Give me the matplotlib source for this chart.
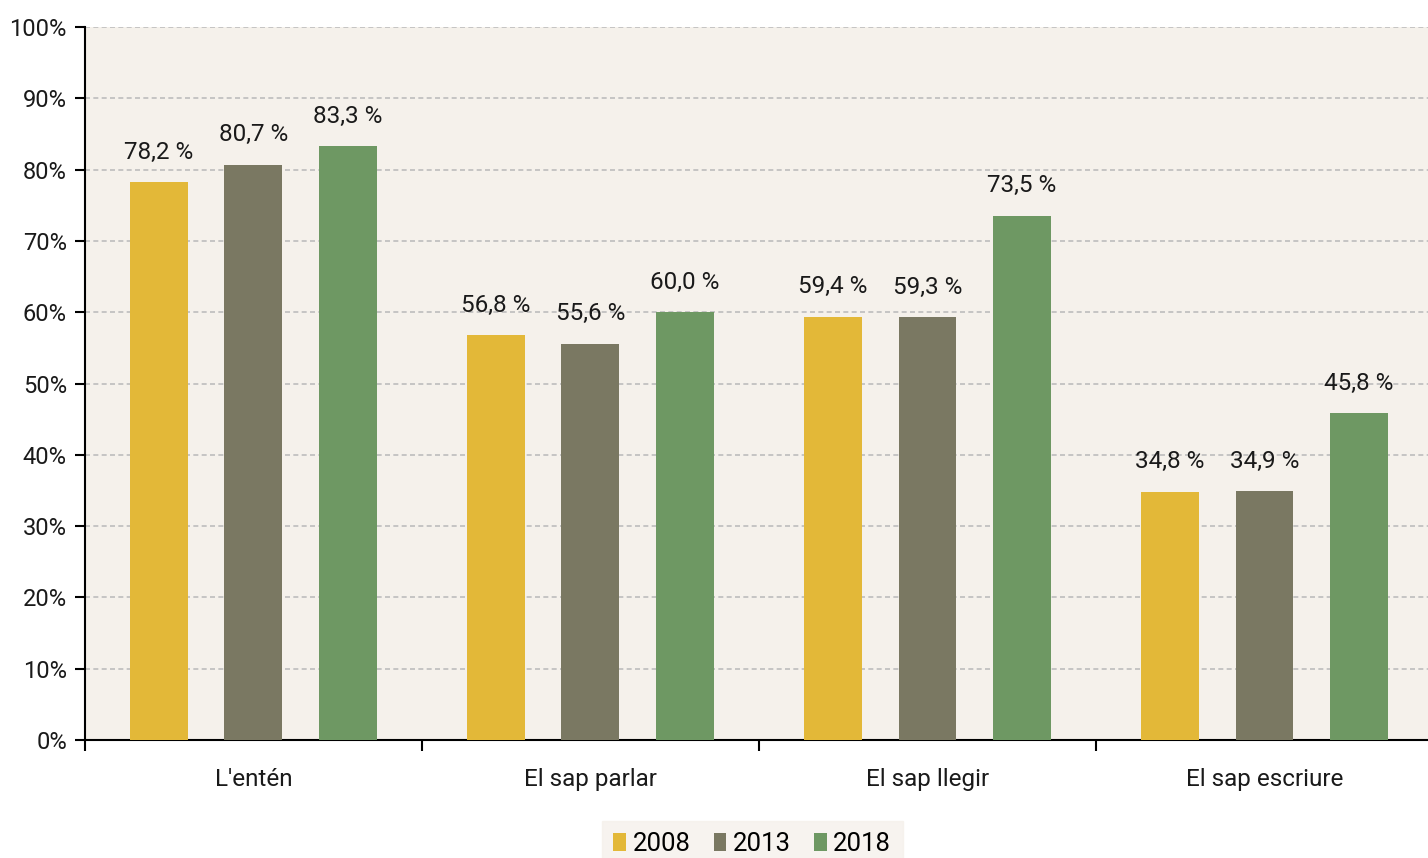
import matplotlib.pyplot as plt
import numpy as np
from matplotlib.ticker import FuncFormatter

plt.rcParams['font.family'] = ['Roboto', 'DejaVu Sans']

categories = ["L'entén", "El sap parlar", "El sap llegir", "El sap escriure"]
years = ["2008", "2013", "2018"]
v2008 = [78.2, 56.8, 59.4, 34.8]
v2013 = [80.7, 55.6, 59.3, 34.9]
v2018 = [83.3, 60.0, 73.5, 45.8]
colors = ["#E3B838", "#7A7862", "#6E9863"]

fig = plt.figure(figsize=(14.28, 8.58), dpi=100)
ax = fig.add_axes([0.0595, 0.1375, 0.944, 0.831])
ax.set_facecolor("#F5F1EB")

x = np.arange(len(categories))
width = 0.172
offsets = [-0.28, 0, 0.28]
for vals, off, col, yr in zip([v2008, v2013, v2018], offsets, colors, years):
    bars = ax.bar(x + off, vals, width, color=col, label=yr, zorder=3)
    for b, v in zip(bars, vals):
        ax.text(b.get_x() + b.get_width() / 2, v + 2.6, f"{v:.1f} %".replace(".", ","),
                ha="center", va="bottom", fontsize=17.5, color="#1a1a1a")

ax.set_xlim(-0.5, len(categories) - 0.5)
ax.set_ylim(0, 100)
ax.set_yticks(range(0, 101, 10))
ax.yaxis.set_major_formatter(FuncFormatter(lambda v, p: f"{int(v)}%"))
ax.yaxis.grid(True, linestyle=(0, (3, 2)), color="#BDBDBD", linewidth=1.2, zorder=0)

# category labels centred, ticks at the group boundaries
ax.set_xticks(np.arange(len(categories) + 1) - 0.5)
ax.set_xticklabels([])
ax.set_xticks(x, minor=True)
ax.set_xticklabels(categories, minor=True, fontsize=17.5, color="#1a1a1a")
ax.tick_params(axis="x", which="minor", length=0, pad=20)
ax.tick_params(axis="x", which="major", length=8, width=1.5, direction="out")
ax.tick_params(axis="y", length=7, width=1.5, labelsize=17, pad=6, labelcolor="#1a1a1a")

for s in ["top", "right"]:
    ax.spines[s].set_visible(False)
for s in ["left", "bottom"]:
    ax.spines[s].set_linewidth(1.5)

leg = ax.legend(loc="upper center", bbox_to_anchor=(0.495, -0.095), ncol=3, fontsize=18.5,
                frameon=True, fancybox=False, handlelength=0.5, handleheight=0.7,
                handletextpad=0.25, columnspacing=0.9, borderpad=0.45)
leg.get_frame().set_facecolor("#F5F1EB")
leg.get_frame().set_edgecolor("#F5F1EB")

fig.savefig("out.png", dpi=100)
